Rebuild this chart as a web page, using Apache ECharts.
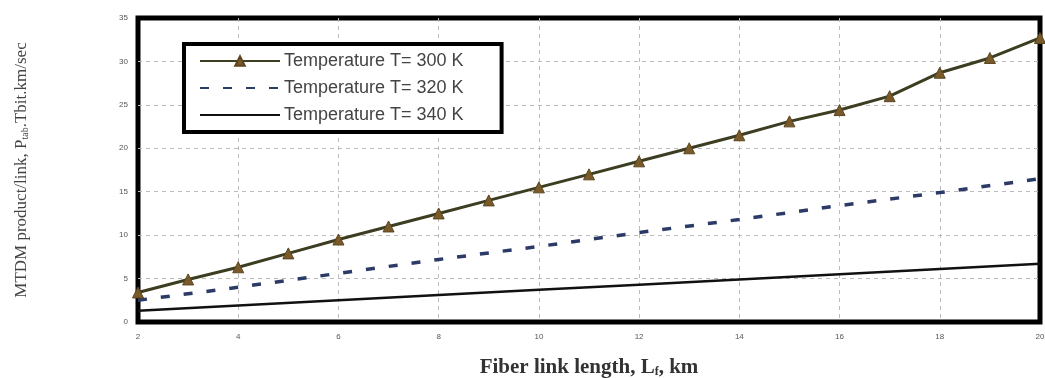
<!DOCTYPE html>
<html>
<head>
<meta charset="utf-8">
<script src="https://cdn.jsdelivr.net/npm/echarts@6/dist/echarts.min.js"></script>
<style>
  html, body { margin: 0; padding: 0; background: #fff; }
  #main { width: 1045px; height: 378px; }
</style>
</head>
<body>
<div id="main"></div>
<script>
// fibre length (km)
var lengths = [2, 3, 4, 5, 6, 7, 8, 9, 10, 11, 12, 13, 14, 15, 16, 17, 18, 19, 20];
var evenLengths = [2, 4, 6, 8, 10, 12, 14, 16, 18, 20];
// MTDM product per link
var t300 = [3.4, 4.9, 6.3, 7.9, 9.5, 11.0, 12.5, 14.0, 15.5, 17.0, 18.5, 20.0, 21.5, 23.1, 24.4, 26.0, 28.7, 30.4, 32.7];
var t320 = [2.5, 4.0, 5.6, 7.2, 8.7, 10.3, 11.8, 13.4, 14.9, 16.5];
var t340 = [1.3, 1.9, 2.5, 3.1, 3.7, 4.3, 4.9, 5.5, 6.1, 6.7];
var seriesNames = ['Temperature T= 300 K', 'Temperature T= 320 K', 'Temperature T= 340 K'];

function pairs(xs, ys) {
    var out = [];
    for (var i = 0; i < xs.length; i++) {
        out.push([xs[i], ys[i]]);
    }
    return out;
}

var chart = echarts.init(document.getElementById('main'));

var gridLine = { show: true, showMinLine: false, showMaxLine: false, lineStyle: { color: '#bbb', type: [4, 4], width: 1 } };

var option = {
    backgroundColor: '#fff',
    animation: false,
    grid: {
        left: 138, right: 5, top: 18, bottom: 56,
        outerBoundsMode: 'none',
        containLabel: false,
        show: true,
        borderColor: '#000',
        borderWidth: 5,
        backgroundColor: 'transparent'
    },
    legend: {
        orient: 'vertical',
        left: 184, top: 44,
        backgroundColor: '#fff',
        borderColor: '#000',
        borderWidth: 4,
        padding: [8, 38, 8, 15],
        itemWidth: 80,
        itemHeight: 12,
        itemGap: 9,
        textStyle: { fontFamily: 'Liberation Sans, Arial', fontSize: 18, color: '#444', padding: [0, 0, 0, -1] },
        data: [
            { name: seriesNames[0] },
            { name: seriesNames[1], itemStyle: { opacity: 0 } },
            { name: seriesNames[2], itemStyle: { opacity: 0 } }
        ]
    },
    xAxis: {
        type: 'value',
        min: 2, max: 20, interval: 2,
        name: 'Fiber link length, L{s|f}, km',
        nameLocation: 'middle',
        nameGap: 35,
        nameTextStyle: {
            fontFamily: 'Liberation Serif, Times New Roman, serif',
            fontSize: 21, fontWeight: 'bold', color: '#333',
            rich: { s: { fontSize: 12, fontFamily: 'Liberation Serif', fontWeight: 'bold', color: '#333', padding: [8, 0, 0, 0] } }
        },
        axisLine: { show: false },
        axisTick: { show: false },
        axisLabel: { fontSize: 8, color: '#555', margin: 11, fontFamily: 'Liberation Sans' },
        splitLine: gridLine
    },
    yAxis: {
        type: 'value',
        min: 0, max: 35, interval: 5,
        name: 'MTDM product/link, P{s|tab}.Tbit.km/sec',
        nameLocation: 'middle',
        nameGap: 108,
        nameTextStyle: {
            fontFamily: 'Liberation Serif, Times New Roman, serif',
            fontSize: 17, color: '#444',
            rich: { s: { fontSize: 10, fontFamily: 'Liberation Serif', color: '#444', padding: [7, 0, 0, 0] } }
        },
        axisLine: { show: false },
        axisTick: { show: false },
        axisLabel: { fontSize: 8, color: '#555', margin: 10, fontFamily: 'Liberation Sans' },
        splitLine: gridLine
    },
    series: [
        {
            name: seriesNames[0],
            type: 'line',
            data: pairs(lengths, t300),
            symbol: 'triangle',
            symbolSize: 11,
            itemStyle: { color: '#7a5a28', borderColor: '#5a4620', borderWidth: 1 },
            lineStyle: { color: '#3d3d22', width: 3 },
            z: 4
        },
        {
            name: seriesNames[1],
            type: 'line',
            data: pairs(evenLengths, t320),
            symbol: 'none',
            itemStyle: { color: '#2b3a66' },
            lineStyle: { color: '#2b3a66', width: 3.5, type: [9, 14] },
            z: 3
        },
        {
            name: seriesNames[2],
            type: 'line',
            data: pairs(evenLengths, t340),
            symbol: 'none',
            itemStyle: { color: '#111' },
            lineStyle: { color: '#111', width: 2.5 },
            z: 3
        }
    ]
};

chart.setOption(option);
</script>
</body>
</html>
